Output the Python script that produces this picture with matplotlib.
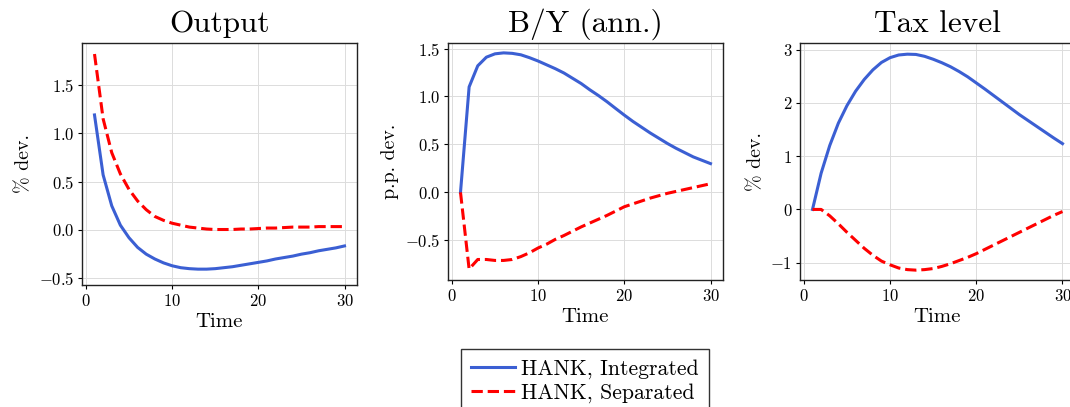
import matplotlib
matplotlib.use("Agg")
import matplotlib.pyplot as plt

plt.rcParams['font.family'] = 'serif'
plt.rcParams['font.serif'] = ['cmr10', 'DejaVu Serif']
plt.rcParams['mathtext.fontset'] = 'cm'
plt.rcParams['axes.formatter.use_mathtext'] = True

t = list(range(1, 31))

output_int = [1.19, 0.57, 0.25, 0.05, -0.08, -0.18, -0.25, -0.30, -0.34, -0.37,
              -0.39, -0.40, -0.405, -0.405, -0.40, -0.39, -0.38, -0.365, -0.35, -0.335,
              -0.32, -0.30, -0.285, -0.27, -0.25, -0.235, -0.215, -0.20, -0.185, -0.165]
output_sep = [1.82, 1.15, 0.80, 0.58, 0.42, 0.30, 0.21, 0.14, 0.10, 0.07,
              0.05, 0.03, 0.02, 0.01, 0.005, 0.005, 0.005, 0.01, 0.01, 0.015,
              0.02, 0.02, 0.025, 0.03, 0.03, 0.03, 0.035, 0.035, 0.035, 0.035]

by_int = [0.0, 1.10, 1.32, 1.41, 1.445, 1.455, 1.45, 1.435, 1.405, 1.37,
          1.33, 1.29, 1.245, 1.19, 1.135, 1.07, 1.01, 0.945, 0.875, 0.806,
          0.74, 0.68, 0.62, 0.565, 0.51, 0.46, 0.415, 0.37, 0.335, 0.30]
by_sep = [0.0, -0.80, -0.70, -0.70, -0.71, -0.71, -0.70, -0.67, -0.63, -0.58,
          -0.54, -0.49, -0.45, -0.405, -0.36, -0.32, -0.28, -0.24, -0.195, -0.15,
          -0.12, -0.09, -0.06, -0.035, -0.01, 0.01, 0.03, 0.05, 0.07, 0.09]

tax_int = [0.0, 0.68, 1.20, 1.62, 1.95, 2.22, 2.44, 2.62, 2.76, 2.85,
           2.90, 2.915, 2.91, 2.875, 2.82, 2.755, 2.68, 2.59, 2.49, 2.375,
           2.26, 2.14, 2.02, 1.90, 1.78, 1.67, 1.56, 1.45, 1.34, 1.235]
tax_sep = [0.0, 0.0, -0.12, -0.27, -0.43, -0.58, -0.73, -0.86, -0.97, -1.04,
           -1.10, -1.13, -1.14, -1.13, -1.11, -1.07, -1.02, -0.96, -0.90, -0.83,
           -0.75, -0.67, -0.59, -0.51, -0.43, -0.35, -0.27, -0.19, -0.11, -0.04]

titulos = ["Output", "B/Y (ann.)", "Tax level"]
etiquetas_y = ["% dev.", "p.p. dev.", "% dev."]
series = [(output_int, output_sep), (by_int, by_sep), (tax_int, tax_sep)]
limites_y = [(-0.569, 1.934), (-0.914, 1.558), (-1.325, 3.125)]
ticks_y = [[-0.5, 0.0, 0.5, 1.0, 1.5], [-0.5, 0.0, 0.5, 1.0, 1.5], [-1, 0, 1, 2, 3]]

fig = plt.figure(figsize=(10.70, 4.07), dpi=100)
W, H = 1070, 407
cajas = [(82, 43, 357, 285), (448, 43, 723, 280), (800, 43, 1075, 280)]

for i, (x0, y0, x1, y1) in enumerate(cajas):
    ax = fig.add_axes([x0 / W, 1 - y1 / H, (x1 - x0) / W, (y1 - y0) / H])
    integ, sep = series[i]
    ax.plot(t, integ, color='#3b5fd3', lw=2.2, label="HANK, Integrated")
    ax.plot(t, sep, color='red', lw=2.2, ls='--', label="HANK, Separated")
    ax.set_xlim(-0.45, 31.45)
    ax.set_ylim(*limites_y[i])
    ax.set_xticks([0, 10, 20, 30])
    ax.set_yticks(ticks_y[i])
    ax.grid(True, color='#dcdcdc', lw=0.7)
    ax.set_axisbelow(True)
    ax.set_title(titulos[i], fontsize=22.5, pad=8)
    ax.set_xlabel("Time", fontsize=15, labelpad=3.5)
    ax.set_ylabel(etiquetas_y[i], fontsize=14.3, labelpad=4)
    ax.tick_params(labelsize=12, length=3, width=0.8, pad=2.5)
    for s in ax.spines.values():
        s.set_linewidth(1.0)
        s.set_color('#222222')
    if i == 0:
        handles, labels = ax.get_legend_handles_labels()

leg = fig.legend(handles, labels, loc='upper center',
                 bbox_to_anchor=(585 / W, 1 - 349 / H), fontsize=15.7,
                 frameon=True, fancybox=False, edgecolor='#333333',
                 handlelength=2.0, handletextpad=0.3, borderpad=0.45,
                 labelspacing=0.22, borderaxespad=0)
leg.get_frame().set_linewidth(1.0)
leg.get_frame().set_alpha(1)

fig.savefig("out.png", dpi=100)
